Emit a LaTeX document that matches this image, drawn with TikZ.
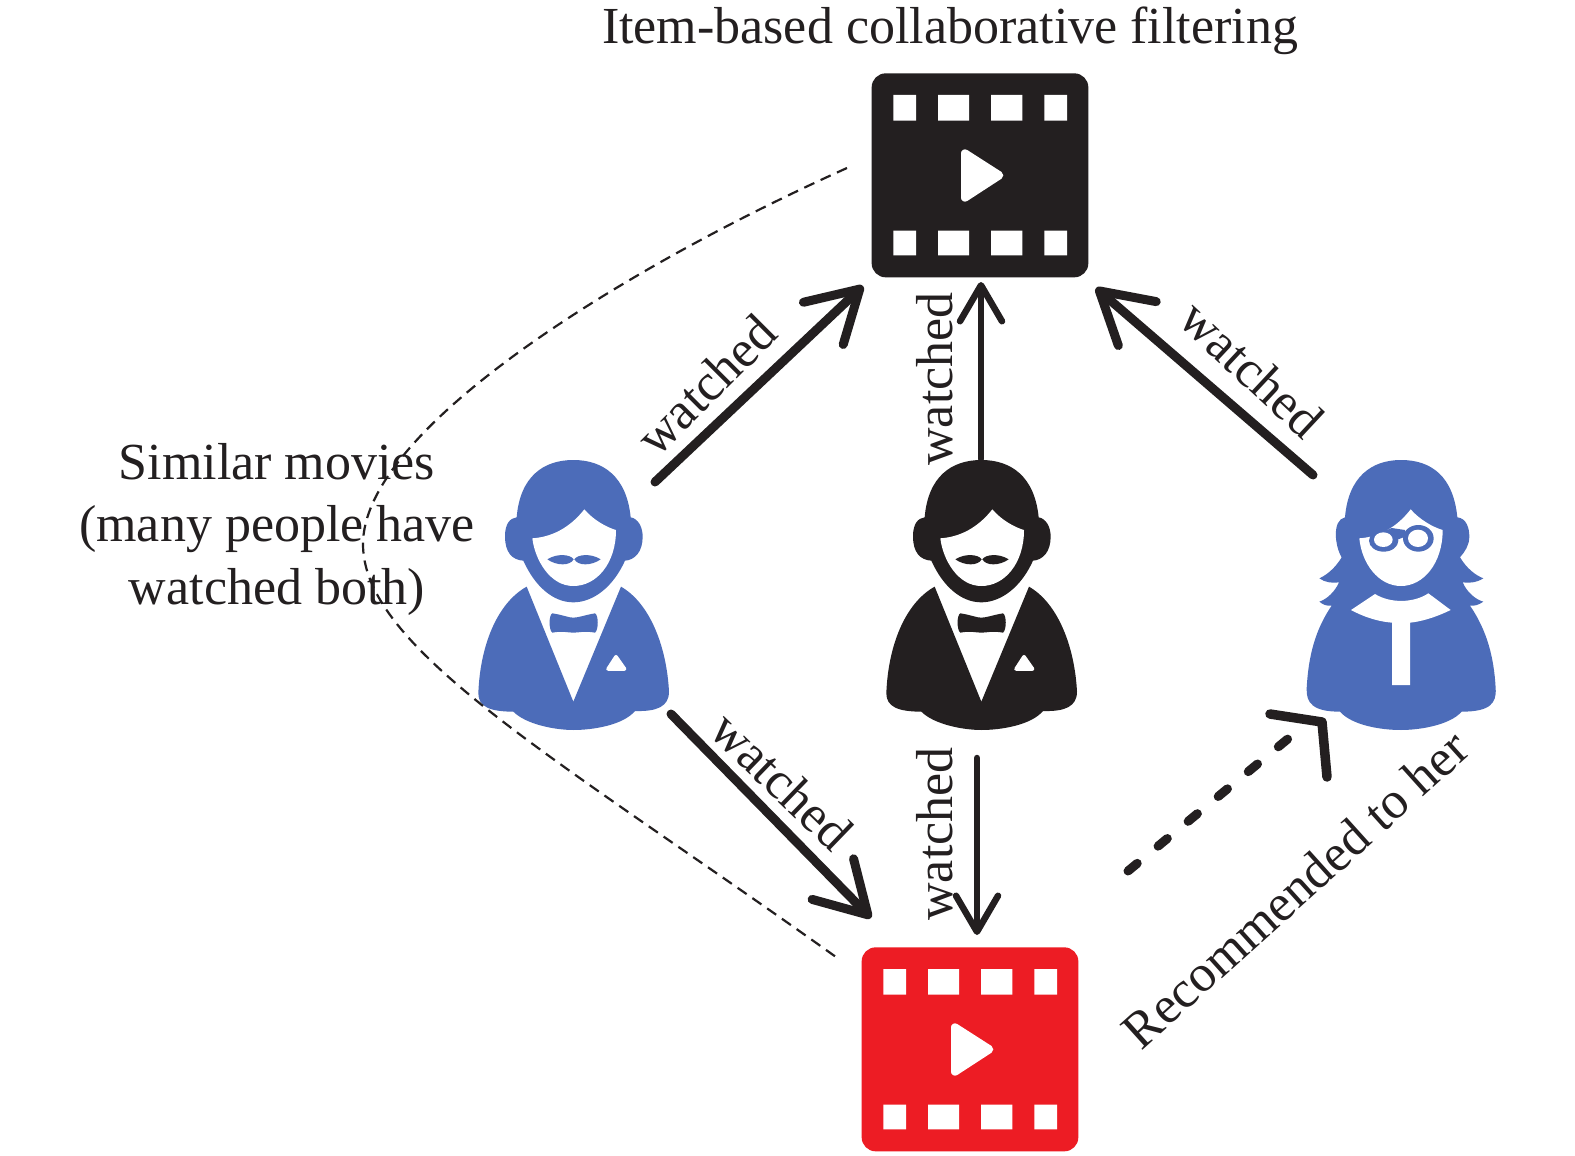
\documentclass[tikz,border=0pt]{standalone}
\usepackage{fontspec}
\setmainfont{Liberation Serif}
\usetikzlibrary{arrows.meta}
\definecolor{ink}{HTML}{231F20}
\definecolor{manblue}{HTML}{4C6CB9}
\definecolor{filmred}{HTML}{ED1C24}
\tikzset{
  lbl/.style={text=ink,font=\fontsize{52}{62.5}\selectfont,inner sep=0pt,align=center},
  bigarrow/.style={draw=ink,line width=9pt,line cap=round,-{Straight Barb[length=50pt,width=58pt,round]}},
  vertarrow/.style={draw=ink,line width=6.5pt,line cap=round,-{Straight Barb[length=36pt,width=42pt,round]}},
  simcurve/.style={draw=ink,line width=2.2pt,dash pattern=on 11pt off 7pt},
  recdash/.style={draw=ink,line width=9pt,line cap=round,dash pattern=on 12pt off 27pt},
  rechead/.style={draw=ink,line width=9.5pt,line cap=round,line join=round},
  icon/.style={inner sep=0pt,minimum width=216pt,minimum height=204pt}
}
\newcommand{\filmicon}[3]{%
  \begin{scope}[shift={(#1,#2)},scale=0.33333]
    \fill[#3,rounded corners=14pt] (65,40) rectangle (715,652);
    \fill[white] (130,105) rectangle (198,182) (264,105) rectangle (357,182)
      (423,105) rectangle (517,182) (583,105) rectangle (651,182)
      (130,512) rectangle (198,586) (264,512) rectangle (357,586)
      (423,512) rectangle (517,586) (583,512) rectangle (651,586);
    \fill[white,draw=white,line width=8pt,line join=round] (345,280) -- (345,413) -- (448,346) -- cycle;
  \end{scope}}
\newcommand{\manicon}[3]{%
  \begin{scope}[shift={(#1,#2)},scale=0.33333]
    \fill[#3] (170,232) .. controls (180,110) and (250,60) .. (340,60)
      .. controls (430,60) and (500,110) .. (512,232)
      .. controls (535,236) and (548,262) .. (548,290)
      .. controls (548,335) and (525,360) .. (495,362)
      .. controls (460,440) and (400,487) .. (340,487)
      .. controls (280,487) and (225,440) .. (190,362)
      .. controls (155,360) and (135,335) .. (135,290)
      .. controls (135,250) and (150,235) .. (170,232) -- cycle;
    \fill[white] (217,295) .. controls (290,290) and (340,250) .. (373,208)
      .. controls (400,240) and (440,262) .. (468,270)
      .. controls (468,370) and (410,438) .. (340,438)
      .. controls (270,438) and (225,360) .. (217,295) -- cycle;
    \fill[#3] (262,358) .. controls (290,340) and (330,342) .. (341,358)
      .. controls (330,378) and (290,378) .. (262,358) -- cycle;
    \fill[#3] (422,358) .. controls (394,340) and (354,342) .. (343,358)
      .. controls (354,378) and (394,378) .. (422,358) -- cycle;
    \fill[#3] (200,440) .. controls (110,490) and (60,620) .. (55,760)
      .. controls (55,800) and (90,815) .. (160,815)
      .. controls (200,855) and (290,870) .. (340,870)
      .. controls (400,870) and (490,855) .. (525,813)
      .. controls (590,815) and (627,800) .. (627,755)
      .. controls (620,620) and (570,490) .. (483,440)
      -- (340,785) -- cycle;
    \fill[#3] (277,520) .. controls (310,525) and (325,533) .. (340,533)
      .. controls (355,533) and (375,525) .. (405,520)
      .. controls (416,525) and (416,570) .. (405,578)
      .. controls (375,572) and (355,578) .. (340,578)
      .. controls (325,578) and (305,572) .. (277,578)
      .. controls (266,570) and (266,525) .. (277,520) -- cycle;
    \fill[white,draw=white,line width=3.5pt,line join=round] (468,650) -- (494,687) -- (444,687) -- cycle;
  \end{scope}}
\newcommand{\womanicon}[3]{%
  \begin{scope}[shift={(#1,#2)},scale=0.33333]
    \fill[#3] (165,232) .. controls (175,110) and (245,60) .. (333,60)
      .. controls (425,60) and (490,110) .. (502,232)
      .. controls (530,235) and (538,265) .. (538,290)
      .. controls (538,315) and (525,335) .. (510,352)
      .. controls (530,385) and (555,405) .. (580,415)
      .. controls (560,428) and (535,430) .. (518,427)
      .. controls (530,455) and (555,478) .. (580,485)
      .. controls (565,495) and (555,498) .. (540,497)
      .. controls (590,570) and (612,650) .. (617,745)
      .. controls (620,790) and (600,815) .. (515,815)
      .. controls (480,855) and (390,870) .. (333,870)
      .. controls (270,870) and (185,855) .. (150,815)
      .. controls (70,815) and (48,790) .. (50,745)
      .. controls (55,650) and (75,570) .. (125,497)
      .. controls (110,498) and (100,495) .. (88,485)
      .. controls (110,478) and (135,455) .. (147,427)
      .. controls (130,430) and (105,428) .. (88,415)
      .. controls (110,405) and (135,385) .. (155,352)
      .. controls (135,320) and (125,240) .. (165,232) -- cycle;
    \fill[white] (208,295) .. controls (280,290) and (330,250) .. (362,208)
      .. controls (390,240) and (430,262) .. (458,270)
      .. controls (458,370) and (400,438) .. (333,438)
      .. controls (265,438) and (215,370) .. (208,295) -- cycle;
    \fill[#3] (240,292) -- (285,272) -- (305,264) -- (345,270) -- (345,290) -- (320,300) -- (240,310) -- cycle;
    \fill[#3] (281,302) ellipse [x radius=44,y radius=33];
    \fill[#3] (385,295) ellipse [x radius=46,y radius=40];
    \fill[white] (280,299) ellipse [x radius=28,y radius=22];
    \fill[white] (384,295) ellipse [x radius=30,y radius=26];
    \fill[white] (183,510) -- (255,462) .. controls (300,490) and (370,490) .. (415,460)
      -- (482,510) .. controls (430,535) and (390,545) .. (360,548)
      -- (360,735) -- (306,735) -- (306,548)
      .. controls (270,545) and (230,535) .. (183,510) -- cycle;
  \end{scope}}
\begin{document}
\begin{tikzpicture}[x=1pt,y=-1pt]
\useasboundingbox (0,0) rectangle (1575,1156);
\fill[white] (0,0) rectangle (1575,1156);
% icons
\filmicon{850}{60}{ink}
\filmicon{840}{934}{filmred}
\manicon{460}{440}{manblue}
\manicon{868}{440}{ink}
\womanicon{1290}{440}{manblue}
\node[icon] (filmtop) at (980,175) {};
\node[icon] (filmbot) at (970,1049) {};
\node[icon,minimum width=190pt,minimum height=268pt] (manleft) at (574,595) {};
\node[icon,minimum width=190pt,minimum height=268pt] (manmid) at (983,595) {};
\node[icon,minimum width=190pt,minimum height=268pt] (woman) at (1401,595) {};
% connector ends
\coordinate (a1s) at (655,482); \coordinate (a1e) at (863,286);
\coordinate (a2s) at (981,459); \coordinate (a2e) at (981,282);
\coordinate (a3s) at (1313,475); \coordinate (a3e) at (1096,288);
\coordinate (a4s) at (671,714); \coordinate (a4e) at (871,918);
\coordinate (a5s) at (977,758); \coordinate (a5e) at (977,935);
\coordinate (c1) at (847,168); \coordinate (c2) at (363,545); \coordinate (c3) at (836,957);
\coordinate (d1) at (1128,871); \coordinate (d2) at (1295,733);
\coordinate (h1) at (1270,714); \coordinate (h2) at (1322,722); \coordinate (h3) at (1327,777);
% connectors
\draw[bigarrow] (a1s) -- (a1e);
\draw[vertarrow] (a2s) -- (a2e);
\draw[bigarrow] (a3s) -- (a3e);
\draw[bigarrow] (a4s) -- (a4e);
\draw[vertarrow] (a5s) -- (a5e);
\draw[recdash] (d1) -- (d2);
\draw[rechead] (h1) -- (h2) -- (h3);
% text
\node[lbl] (title) at (950,31) {Item-based collaborative filtering};
\node[lbl,rotate=45] (w1) at (706,385) {watched};
\node[lbl,rotate=90] (w2) at (935,379) {watched};
\node[lbl,rotate=-43] (w3) at (1252,369) {watched};
\node[lbl,rotate=-44] (w4) at (782,781) {watched};
\node[lbl,rotate=90] (w5) at (935,834) {watched};
\node[lbl,rotate=42] (rec) at (1295,889) {Recommended to her};
\node[lbl] (sim) at (277,529) {Similar movies\\(many people have\\watched both)};
\draw[simcurve] (c1) .. controls (620,270) and (362,430) .. (c2) .. controls (364,650) and (560,760) .. (c3);
\end{tikzpicture}
\end{document}
